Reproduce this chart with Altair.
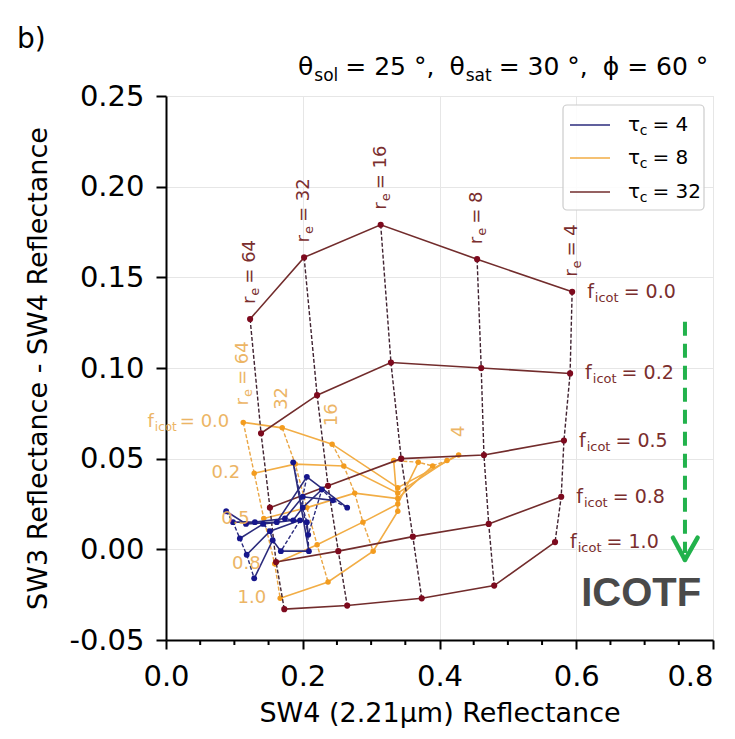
import altair as alt
import pandas as pd

# ---------------- data ----------------
RE = [64, 32, 16, 8, 4]
FICOT = [0.0, 0.2, 0.5, 0.8, 1.0]

# tau_c = 32 ; rows = f_icot (0.0 .. 1.0), columns = r_e (64 .. 4)
T32_X = [
    [0.123, 0.202, 0.314, 0.455, 0.594],
    [0.139, 0.221, 0.329, 0.461, 0.591],
    [0.152, 0.237, 0.344, 0.465, 0.582],
    [0.161, 0.252, 0.361, 0.472, 0.578],
    [0.173, 0.265, 0.374, 0.480, 0.569],
]
T32_Y = [
    [0.127, 0.161, 0.179, 0.160, 0.142],
    [0.064, 0.085, 0.103, 0.100, 0.097],
    [0.023, 0.035, 0.050, 0.052, 0.060],
    [-0.007, -0.001, 0.007, 0.014, 0.029],
    [-0.033, -0.031, -0.027, -0.020, 0.004],
]
# tau_c = 8
T8_X = [
    [0.113, 0.170, 0.243, 0.339, 0.428],
    [0.129, 0.189, 0.260, 0.339, 0.411],
    [0.143, 0.206, 0.276, 0.339, 0.390],
    [0.159, 0.221, 0.288, 0.339, 0.369],
    [0.167, 0.237, 0.303, 0.339, 0.333],
]
T8_Y = [
    [0.070, 0.067, 0.058, 0.034, 0.052],
    [0.042, 0.047, 0.046, 0.031, 0.049],
    [0.017, 0.023, 0.031, 0.028, 0.046],
    [-0.008, 0.0025, 0.015, 0.025, 0.048],
    [-0.027, -0.018, -0.001, 0.021, 0.049],
]
# tau_c = 4
T4_X = [
    [0.088, 0.117, 0.162, 0.206, 0.265],
    [0.098, 0.130, 0.174, 0.200, 0.244],
    [0.108, 0.142, 0.186, 0.200, 0.228],
    [0.118, 0.152, 0.196, 0.206, 0.208],
    [0.129, 0.156, 0.168, 0.209, 0.186],
]
T4_Y = [
    [0.021, 0.014, 0.015, 0.040, 0.023],
    [0.015, 0.015, 0.017, 0.029, 0.027],
    [0.006, 0.014, 0.016, 0.023, 0.033],
    [-0.003, 0.010, 0.016, 0.015, 0.008],
    [-0.016, 0.005, -0.001, -0.001, 0.048],
]

X_TICKS = [0.0, 0.2, 0.4, 0.6, 0.8]
X_MINOR = [0.05, 0.1, 0.15, 0.25, 0.3, 0.35, 0.45, 0.5, 0.55, 0.65, 0.7, 0.75]
Y_TICKS = [-0.05, 0.0, 0.05, 0.10, 0.15, 0.20, 0.25]
X_TITLE = "SW4 (2.21\u03bcm) Reflectance"
Y_TITLE = "SW3 Reflectance - SW4 Reflectance"
LEGEND_TAU = ["4", "8", "32"]

# annotation (ICOTF arrow) in data units
ARROW_X = [0.759]
ARROW_Y = [0.1255]
ARROW_Y2 = [-0.002]
HEAD_X = [0.7415, 0.7775]
HEAD_Y = [0.0064, 0.0064]
HEAD_X2 = [0.759, 0.759]
HEAD_Y2 = [-0.0058, -0.0058]
ICOTF_X = [0.695]
ICOTF_Y = [-0.0245]

# ---------------- style ----------------
FONT = "DejaVu Sans"
W, H = 547, 544
RED_LINE, RED_PT, RED_DASH, RED_TXT = "#722c2c", "#7d0a1e", "#402331", "#7a2e2e"
OR_LINE, OR_PT, OR_DASH, OR_TXT = "#f2ad45", "#f39c1f", "#eaa645", "#ebae55"
BL_LINE, BL_PT, BL_DASH = "#2b2b7c", "#16168c", "#2b2b7c"
GREEN = "#22b24c"

ADV = {" ": .318, "0": .636, "1": .636, "2": .636, "3": .636, "4": .636, "5": .636,
       "6": .636, "7": .636, "8": .636, "9": .636, ".": .318, ",": .318, "=": .838,
       "\u00b0": .5, "f": .352, "i": .278, "c": .55, "o": .612, "t": .392, "r": .411,
       "e": .615, "s": .521, "l": .278, "a": .613, "\u03b8": .613, "\u03d5": .665,
       "\u03c4": .56, "-": .361}


def tw(s, size):
    return sum(ADV.get(ch, .6) for ch in s) * size


def grid_df(xs_, ys_):
    rows = []
    for i, f in enumerate(FICOT):
        for j, re in enumerate(RE):
            rows.append(dict(f=f, fi=i, re=re, ri=j, x=xs_[i][j], y=ys_[i][j],
                             flab="= %.1f" % f, fnum="%.1f" % f,
                             relab="= %d" % re, renum="%d" % re))
    return pd.DataFrame(rows)


d32 = grid_df(T32_X, T32_Y)
d8 = grid_df(T8_X, T8_Y)
d4 = grid_df(T4_X, T4_Y)

xs = alt.Scale(domain=[0, 0.8], nice=False, zero=False)
ys = alt.Scale(domain=[-0.05, 0.25], nice=False, zero=False)
xaxis = alt.Axis(values=X_TICKS, format=".1f", title=X_TITLE, grid=True,
                 gridColor="#e6e6e6", gridWidth=1, labelFont=FONT, labelFontSize=29,
                 labelAlign={"condition": {"test": "datum.value > 0.79", "value": "right"},
                             "value": "center"},
                 labelColor="black", labelPadding=13, tickColor="black", tickSize=9,
                 tickWidth=2, domainColor="black", domainWidth=2, titleFont=FONT,
                 titleFontSize=27, titleFontWeight="normal", titleColor="black",
                 titlePadding=9, labelFlush=False)
yaxis = alt.Axis(values=Y_TICKS, title=Y_TITLE, grid=True,
                 labelExpr="datum.value < 0 ? '-' + format(-datum.value, '.2f') : format(datum.value, '.2f')",
                 gridColor="#e6e6e6", gridWidth=1, labelFont=FONT, labelFontSize=29,
                 labelColor="black", labelPadding=12, tickColor="black", tickSize=10,
                 tickWidth=2, domainColor="black", domainWidth=2, titleFont=FONT,
                 titleFontSize=27, titleFontWeight="normal", titleColor="black",
                 titlePadding=16, labelFlush=False)
X = alt.X("x:Q", scale=xs, axis=xaxis)
Y = alt.Y("y:Q", scale=ys, axis=yaxis)

layers = []


def grid_layers(d, lc, dc, pc, psize):
    out = []
    out.append(alt.Chart(d).mark_line(color=dc, strokeWidth=1.4, strokeDash=[4, 2]).encode(
        x=X, y=Y, detail="re:N", order="fi:Q"))
    out.append(alt.Chart(d).mark_line(color=lc, strokeWidth=1.6).encode(
        x=X, y=Y, detail="f:N", order="ri:Q"))
    out.append(alt.Chart(d).mark_circle(color=pc, size=psize, opacity=1).encode(x=X, y=Y))
    return out


def piece(df, text, dx, dy, size, color, align="left", angle=0, baseline="middle", opacity=1.0):
    return alt.Chart(df).mark_text(dx=dx, dy=dy, fontSize=size, color=color, align=align,
                                   angle=angle, baseline=baseline, font=FONT,
                                   opacity=opacity).encode(x=X, y=Y, text=text)


# minor x ticks
layers.append(alt.Chart(pd.DataFrame({"x": X_MINOR})).mark_rule(color="black", strokeWidth=2).encode(
    x=X, y=alt.value(H), y2=alt.value(H + 5)))

layers += grid_layers(d8, OR_LINE, OR_DASH, OR_PT, 30)
layers += grid_layers(d32, RED_LINE, RED_DASH, RED_PT, 38)
layers += grid_layers(d4, BL_LINE, BL_DASH, BL_PT, 34)

# ---- red labels ----
r4 = d32[d32.ri == 4]
s, ss = 19, 13
dx0 = 15
layers.append(piece(r4, alt.value("f"), dx0, 0, s, RED_TXT))
dx1 = dx0 + tw("f", s) + 1
layers.append(piece(r4, alt.value("icot"), dx1, 6, ss, RED_TXT))
dx2 = dx1 + tw("icot", ss) + 5
layers.append(piece(r4, "flab:N", dx2, 0, s, RED_TXT))

rtop = d32[d32.fi == 0]
s, ss = 18, 13
dx0 = 15
layers.append(piece(rtop, alt.value("r"), dx0, 0, s, RED_TXT, angle=270))
dx1 = dx0 + tw("r", s) + 1
layers.append(piece(rtop, alt.value("e"), dx1, 5, ss, RED_TXT, angle=270))
dx2 = dx1 + tw("e", ss) + 4
layers.append(piece(rtop, "relab:N", dx2, 0, s, RED_TXT, angle=270))

# ---- orange labels ----
o64 = d8[d8.ri == 0]
s, ss = 18, 12
o0 = o64[o64.fi == 0]
orest = o64[o64.fi > 0]
layers.append(piece(orest, "fnum:N", -14, 0, s, OR_TXT, align="right", opacity=0.9))
layers.append(piece(o0, "flab:N", -14, 0, s, OR_TXT, align="right", opacity=0.9))
dxa = -14 - tw("= 0.0", s) - 3
layers.append(piece(o0, alt.value("icot"), dxa, 5, ss, OR_TXT, align="right", opacity=0.9))
dxb = dxa - tw("icot", ss) - 1
layers.append(piece(o0, alt.value("f"), dxb, 0, s, OR_TXT, align="right", opacity=0.9))

otop = d8[d8.fi == 0]
ot64 = otop[otop.ri == 0]
otother = otop[otop.ri.isin([1, 2, 4])]
s, ss = 18, 13
dx0 = 17
layers.append(piece(ot64, alt.value("r"), dx0, 0, s, OR_TXT, angle=270, opacity=0.9))
dx1 = dx0 + tw("r", s) + 1
layers.append(piece(ot64, alt.value("e"), dx1, 5, ss, OR_TXT, angle=270, opacity=0.9))
dx2 = dx1 + tw("e", ss) + 4
layers.append(piece(ot64, "relab:N", dx2, 0, s, OR_TXT, angle=270, opacity=0.9))
layers.append(piece(otother, "renum:N", 18, 0, s, OR_TXT, angle=270, opacity=0.9))

# ---- ICOTF arrow ----
arrow = pd.DataFrame({"x": ARROW_X, "y": ARROW_Y, "x2": ARROW_X, "y2": ARROW_Y2})
layers.append(alt.Chart(arrow).mark_rule(color=GREEN, strokeWidth=4, strokeDash=[14, 8]).encode(
    x=X, y=Y, x2="x2:Q", y2="y2:Q"))
head = pd.DataFrame({"x": HEAD_X, "y": HEAD_Y, "x2": HEAD_X2, "y2": HEAD_Y2})
layers.append(alt.Chart(head).mark_rule(color=GREEN, strokeWidth=4.5, strokeCap="round").encode(
    x=X, y=Y, x2="x2:Q", y2="y2:Q"))
icotf = pd.DataFrame({"x": ICOTF_X, "y": ICOTF_Y})
layers.append(alt.Chart(icotf).mark_text(text="ICOTF", font="Liberation Sans", fontSize=40,
                                         fontWeight="bold", color="#4a4a4a", align="center",
                                         baseline="middle").encode(x=X, y=Y))

one = pd.DataFrame({"a": [0]})


def vtext(txt, px, py, size, color="black", align="left", baseline="alphabetic", dy=0):
    return alt.Chart(one).mark_text(text=txt, font=FONT, fontSize=size, color=color, align=align,
                                    baseline=baseline, dy=dy).encode(x=alt.value(px), y=alt.value(py))


# ---- legend ----
layers.append(alt.Chart(one).mark_rect(fill="white", fillOpacity=0.85, stroke="#cccccc",
                                       strokeWidth=1.2, cornerRadius=4).encode(
    x=alt.value(397), x2=alt.value(538), y=alt.value(9), y2=alt.value(114)))
leg_colors = [BL_LINE, OR_LINE, RED_LINE]
leg_y = [29, 62, 96]
for tau, c, yy in zip(LEGEND_TAU, leg_colors, leg_y):
    layers.append(alt.Chart(one).mark_rule(color=c, strokeWidth=1.6).encode(
        x=alt.value(404), x2=alt.value(444), y=alt.value(yy)))
    xx = 462
    layers.append(vtext("\u03c4", xx, yy, 20, baseline="middle"))
    xx += tw("\u03c4", 20) + 0.5
    layers.append(vtext("c", xx, yy, 14, baseline="middle", dy=6))
    xx += tw("c", 14) + 5
    layers.append(vtext("= " + tau, xx, yy, 20, baseline="middle"))

# ---- title ----
ts, tss = 25, 17
tx = 132
ty = -21
parts = [("\u03b8", ts, 0, 1), ("sol", tss, 6, 7), ("= 25 \u00b0,", ts, 0, 15),
         ("\u03b8", ts, 0, 1), ("sat", tss, 6, 7), ("= 30 \u00b0,", ts, 0, 15),
         ("\u03d5 = 60 \u00b0", ts, 0, 0)]
for txt, sz, dyy, gap in parts:
    layers.append(vtext(txt, tx, ty, sz, dy=dyy))
    tx += tw(txt, sz) + gap

layers.append(vtext("b)", -149, -48, 28))

chart = alt.layer(*layers).properties(
    width=W, height=H,
    autosize=alt.AutoSizeParams(type="none"),
    padding={"left": 166, "top": 96, "right": 22, "bottom": 99},
).configure_view(stroke="black", strokeWidth=2).configure(background="white")

chart.save("out.html", embed_options={"renderer": "svg", "actions": False})
